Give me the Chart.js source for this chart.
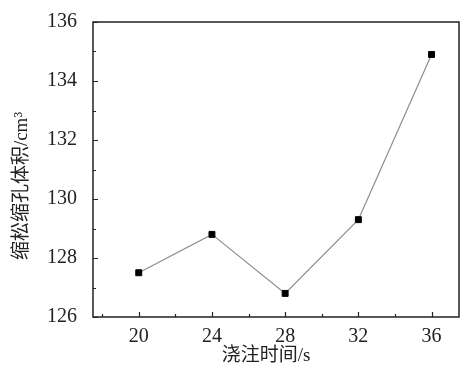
<!DOCTYPE html>
<html>
<head>
<meta charset="utf-8">
<script src="https://cdn.jsdelivr.net/npm/chart.js@4"></script>
<style>
  html, body { margin: 0; padding: 0; background: #fff; }
  #wrap { width: 470px; height: 369px; }
</style>
</head>
<body>
<div id="wrap"><canvas id="chartCanvas"></canvas></div>
<script>
const pourTimes = [20, 24, 28, 32, 36];
const shrinkVolumes = [127.5, 128.8, 126.8, 129.3, 134.9];
const xTickValues = [20, 24, 28, 32, 36];
const xMinorTicks = [18, 22, 26, 30, 34];
const yTickValues = [126, 128, 130, 132, 134, 136];
const yMinorTicks = [127, 129, 131, 133, 135];
const xTitle = '浇注时间/s';
const yTitle = '缩松缩孔体积/cm³';

const SERIF = "'Liberation Serif', 'Noto Sans CJK SC', serif";

// frame, inward ticks and axis titles
const framePlugin = {
    id: 'frame',
    afterDraw(chart) {
        const ctx = chart.ctx;
        const a = chart.chartArea;
        const xs = chart.scales.x;
        const ys = chart.scales.y;
        ctx.save();
        ctx.strokeStyle = '#222';
        ctx.lineWidth = 1.5;
        ctx.strokeRect(a.left, a.top, a.right - a.left, a.bottom - a.top);

        ctx.lineWidth = 1.2;
        ctx.beginPath();
        xTickValues.forEach(v => {
            const px = Math.round(xs.getPixelForValue(v)) + 0.5;
            ctx.moveTo(px, a.bottom); ctx.lineTo(px, a.bottom - 5);
        });
        xMinorTicks.forEach(v => {
            const px = Math.round(xs.getPixelForValue(v)) + 0.5;
            ctx.moveTo(px, a.bottom); ctx.lineTo(px, a.bottom - 3);
        });
        yTickValues.forEach(v => {
            const py = Math.round(ys.getPixelForValue(v)) + 0.5;
            ctx.moveTo(a.left, py); ctx.lineTo(a.left + 5, py);
        });
        yMinorTicks.forEach(v => {
            const py = Math.round(ys.getPixelForValue(v)) + 0.5;
            ctx.moveTo(a.left, py); ctx.lineTo(a.left + 3, py);
        });
        ctx.stroke();

        ctx.fillStyle = '#222';
        ctx.font = '19px ' + SERIF;
        ctx.textAlign = 'center';
        ctx.textBaseline = 'middle';
        ctx.fillText(xTitle, 266, 356);

        ctx.translate(22, 186);
        ctx.rotate(-Math.PI / 2);
        ctx.fillText(yTitle, 0, 0);
        ctx.restore();
    }
};

const ctx = document.getElementById('chartCanvas').getContext('2d');
new Chart(ctx, {
    type: 'line',
    data: {
        datasets: [{
            data: pourTimes.map((t, i) => ({ x: t, y: shrinkVolumes[i] })),
            borderColor: '#8c8c8c',
            borderWidth: 1.2,
            pointStyle: 'rect',
            pointRadius: 4.2,
            pointBackgroundColor: '#000',
            pointBorderColor: '#000',
            pointBorderWidth: 1,
            tension: 0,
            fill: false
        }]
    },
    options: {
        responsive: true,
        maintainAspectRatio: false,
        animation: false,
        layout: {
            padding: { top: 22, right: 11, left: 0, bottom: 0 }
        },
        scales: {
            x: {
                type: 'linear',
                min: 17.5,
                max: 37.5,
                afterBuildTicks: scale => { scale.ticks = xTickValues.map(v => ({ value: v })); },
                afterFit: scale => {
                    scale.height = 52;
                    scale.paddingLeft = 0;
                    scale.paddingRight = 0;
                },
                grid: { display: false, drawTicks: false },
                border: { display: false },
                ticks: {
                    padding: 8,
                    color: '#222',
                    font: { family: SERIF, size: 20 },
                    maxRotation: 0
                }
            },
            y: {
                type: 'linear',
                min: 126,
                max: 136,
                afterBuildTicks: scale => { scale.ticks = yTickValues.map(v => ({ value: v })); },
                afterFit: scale => {
                    scale.width = 93;
                    scale.paddingTop = 0;
                    scale.paddingBottom = 0;
                },
                grid: { display: false, drawTicks: false },
                border: { display: false },
                ticks: {
                    padding: 16,
                    color: '#222',
                    font: { family: SERIF, size: 20 }
                }
            }
        },
        plugins: {
            legend: { display: false },
            tooltip: { enabled: false }
        }
    },
    plugins: [framePlugin]
});
</script>
</body>
</html>
